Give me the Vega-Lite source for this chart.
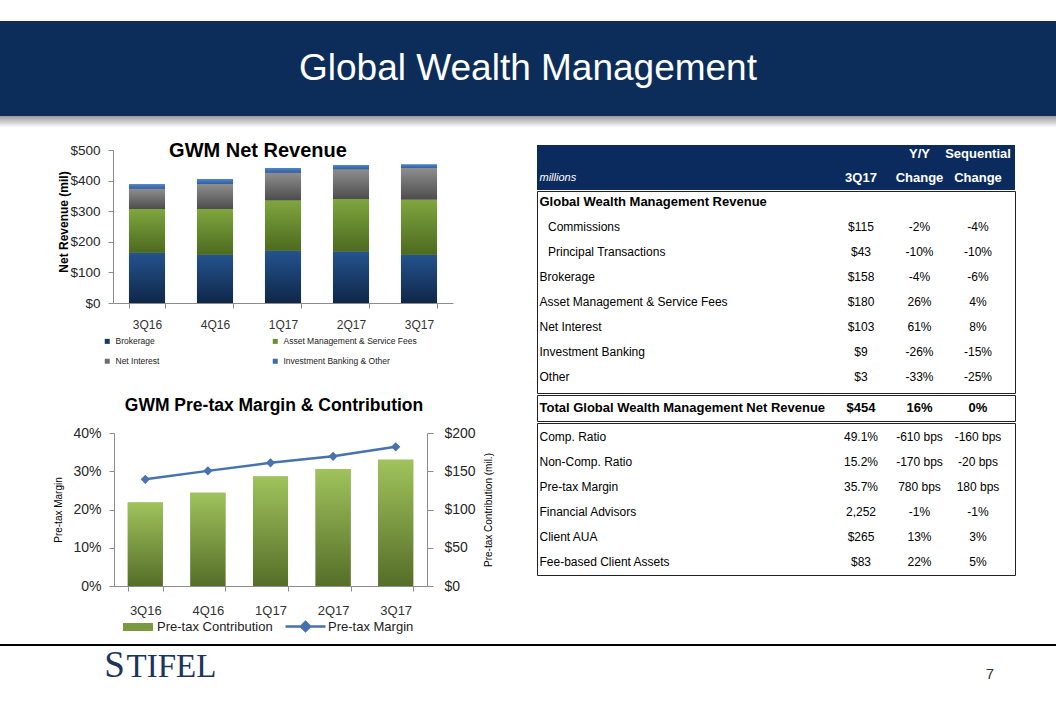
{
  "$schema": "https://vega.github.io/schema/vega-lite/v6.json",
  "background": "white",
  "padding": {"left": 0, "top": 21, "right": 0, "bottom": 0},
  "spacing": 0,
  "resolve": {"scale": {"color": "independent", "fill": "independent"}, "legend": {"color": "independent", "fill": "independent"}},
  "config": {
    "view": {"stroke": null},
    "font": "Liberation Sans",
    "concat": {"spacing": 0},
    "axis": {"grid": false, "domainColor": "#8c8c8c", "tickColor": "#8c8c8c", "labelColor": "#262626", "labelFont": "Liberation Sans", "titleFont": "Liberation Sans", "titleColor": "#000000"},
    "legend": {"labelFont": "Liberation Sans", "labelColor": "#222222"},
    "title": {"font": "Liberation Sans", "color": "#000000"}
  },
  "datasets": {
    "rev": [
      {"q": "3Q16", "s": "Brokerage", "k": 1, "val": 164},
      {"q": "3Q16", "s": "Asset Management & Service Fees", "k": 2, "val": 143},
      {"q": "3Q16", "s": "Net Interest", "k": 3, "val": 66},
      {"q": "3Q16", "s": "Investment Banking & Other", "k": 4, "val": 15},
      {"q": "4Q16", "s": "Brokerage", "k": 1, "val": 158},
      {"q": "4Q16", "s": "Asset Management & Service Fees", "k": 2, "val": 149},
      {"q": "4Q16", "s": "Net Interest", "k": 3, "val": 82},
      {"q": "4Q16", "s": "Investment Banking & Other", "k": 4, "val": 16},
      {"q": "1Q17", "s": "Brokerage", "k": 1, "val": 171},
      {"q": "1Q17", "s": "Asset Management & Service Fees", "k": 2, "val": 165},
      {"q": "1Q17", "s": "Net Interest", "k": 3, "val": 90},
      {"q": "1Q17", "s": "Investment Banking & Other", "k": 4, "val": 15},
      {"q": "2Q17", "s": "Brokerage", "k": 1, "val": 168},
      {"q": "2Q17", "s": "Asset Management & Service Fees", "k": 2, "val": 172},
      {"q": "2Q17", "s": "Net Interest", "k": 3, "val": 97},
      {"q": "2Q17", "s": "Investment Banking & Other", "k": 4, "val": 14},
      {"q": "3Q17", "s": "Brokerage", "k": 1, "val": 158},
      {"q": "3Q17", "s": "Asset Management & Service Fees", "k": 2, "val": 180},
      {"q": "3Q17", "s": "Net Interest", "k": 3, "val": 103},
      {"q": "3Q17", "s": "Investment Banking & Other", "k": 4, "val": 12}
    ],
    "pt": [
      {"q": "3Q16", "contrib": 109, "margin": 0.279},
      {"q": "4Q16", "contrib": 122, "margin": 0.301},
      {"q": "1Q17", "contrib": 143, "margin": 0.322},
      {"q": "2Q17", "contrib": 153, "margin": 0.339},
      {"q": "3Q17", "contrib": 165, "margin": 0.364}
    ],
    "hdr": [
      {"i": 1, "label": "", "v": "", "yy": "Y/Y", "seq": "Sequential"},
      {"i": 2, "label": "millions", "v": "3Q17", "yy": "Change", "seq": "Change"}
    ],
    "tbl": [
      {"sec": "b1", "i": 1, "st": "b", "label": "Global Wealth Management Revenue", "v": "", "yy": "", "seq": ""},
      {"sec": "b1", "i": 2, "st": "i", "label": "Commissions", "v": "$115", "yy": "-2%", "seq": "-4%"},
      {"sec": "b1", "i": 3, "st": "i", "label": "Principal Transactions", "v": "$43", "yy": "-10%", "seq": "-10%"},
      {"sec": "b1", "i": 4, "st": "n", "label": "Brokerage", "v": "$158", "yy": "-4%", "seq": "-6%"},
      {"sec": "b1", "i": 5, "st": "n", "label": "Asset Management & Service Fees", "v": "$180", "yy": "26%", "seq": "4%"},
      {"sec": "b1", "i": 6, "st": "n", "label": "Net Interest", "v": "$103", "yy": "61%", "seq": "8%"},
      {"sec": "b1", "i": 7, "st": "n", "label": "Investment Banking", "v": "$9", "yy": "-26%", "seq": "-15%"},
      {"sec": "b1", "i": 8, "st": "n", "label": "Other", "v": "$3", "yy": "-33%", "seq": "-25%"},
      {"sec": "t", "i": 1, "st": "b", "label": "Total Global Wealth Management Net Revenue", "v": "$454", "yy": "16%", "seq": "0%"},
      {"sec": "b2", "i": 1, "st": "n", "label": "Comp. Ratio", "v": "49.1%", "yy": "-610 bps", "seq": "-160 bps"},
      {"sec": "b2", "i": 2, "st": "n", "label": "Non-Comp. Ratio", "v": "15.2%", "yy": "-170 bps", "seq": "-20 bps"},
      {"sec": "b2", "i": 3, "st": "n", "label": "Pre-tax Margin", "v": "35.7%", "yy": "780 bps", "seq": "180 bps"},
      {"sec": "b2", "i": 4, "st": "n", "label": "Financial Advisors", "v": "2,252", "yy": "-1%", "seq": "-1%"},
      {"sec": "b2", "i": 5, "st": "n", "label": "Client AUA", "v": "$265", "yy": "13%", "seq": "3%"},
      {"sec": "b2", "i": 6, "st": "n", "label": "Fee-based Client Assets", "v": "$83", "yy": "22%", "seq": "5%"}
    ]
  },
  "vconcat": [
    {
      "width": 1056, "height": 95,
      "view": {"fill": "#0c2d59"},
      "data": {"values": [{"t": "Global Wealth Management"}]},
      "mark": {"type": "text", "color": "#ffffff", "fontSize": 37, "baseline": "middle", "align": "center"},
      "encoding": {"text": {"field": "t", "type": "nominal"}}
    },
    {
      "width": 1056, "height": 23,
      "view": {"fill": {"gradient": "linear", "x1": 0, "y1": 0, "x2": 0, "y2": 1, "stops": [{"offset": 0, "color": "#9a9a9a"}, {"offset": 0.5, "color": "#ffffff"}, {"offset": 1, "color": "#ffffff"}]}},
      "data": {"values": []},
      "mark": {"type": "point", "opacity": 0}
    },
    {
      "resolve": {"scale": {"color": "independent", "fill": "independent"}, "legend": {"color": "independent", "fill": "independent"}},
      "hconcat": [
        {
          "resolve": {"scale": {"color": "independent", "fill": "independent"}, "legend": {"color": "independent", "fill": "independent"}},
          "vconcat": [
            {
              "width": 536, "height": 246,
              "view": {"fill": "#ffffff"},
              "title": {"text": "GWM Net Revenue", "fontSize": 20, "fontWeight": "bold", "anchor": "middle", "frame": "group", "baseline": "alphabetic", "offset": -38, "dx": -10},
              "data": {"name": "rev"},
              "encoding": {
                "x": {"field": "q", "type": "nominal", "sort": null, "scale": {"range": [113, 453], "paddingInner": 0.47, "paddingOuter": 0.235},
                      "axis": {"title": null, "offset": -82, "labelAngle": 0, "labelFontSize": 12, "labelPadding": 11, "tickSize": 5, "tickBand": "extent", "labelColor": "#333333"}}
              },
              "layer": [
                {
                  "mark": {"type": "bar"},
                  "encoding": {
                    "y": {"field": "val", "type": "quantitative", "stack": "zero", "scale": {"domain": [0, 500], "range": [164, 11]},
                          "axis": {"offset": -113, "values": [0, 100, 200, 300, 400, 500], "format": "$,.0f", "labelFontSize": 13.5, "tickSize": 5, "labelPadding": 8,
                                   "title": "Net Revenue (mil)", "titleFontSize": 12, "titleFontWeight": "bold", "titleX": -50, "titleY": 82.5, "titleAngle": 270, "titleBaseline": "middle", "titleAlign": "center"}},
                    "color": {"field": "s", "type": "nominal",
                              "scale": {"domain": ["Brokerage", "Net Interest", "Asset Management & Service Fees", "Investment Banking & Other"], "range": ["#173a6a", "#6e6e6e", "#6a8f2e", "#3a6db0"]},
                              "legend": {"orient": "none", "legendX": 103, "legendY": 198, "columns": 2, "columnPadding": 111, "rowPadding": 11, "symbolType": "square", "symbolSize": 25, "symbolStrokeWidth": 0, "labelFontSize": 8.5, "labelOffset": 4, "title": null}},
                    "order": {"field": "k", "type": "quantitative"}
                  }
                },
                {
                  "transform": [{"stack": "val", "groupby": ["q"], "sort": [{"field": "k", "order": "ascending"}], "as": ["v0", "v1"]}, {"filter": {"field": "k", "equal": 1}}],
                  "mark": {"type": "bar", "color": {"gradient": "linear", "x1": 0, "y1": 0, "x2": 0, "y2": 1, "stops": [{"offset": 0, "color": "#24538f"}, {"offset": 1, "color": "#0f2748"}]}},
                  "encoding": {"y": {"field": "v1", "type": "quantitative"}, "y2": {"field": "v0"}}
                },
                {
                  "transform": [{"stack": "val", "groupby": ["q"], "sort": [{"field": "k", "order": "ascending"}], "as": ["v0", "v1"]}, {"filter": {"field": "k", "equal": 2}}],
                  "mark": {"type": "bar", "color": {"gradient": "linear", "x1": 0, "y1": 0, "x2": 0, "y2": 1, "stops": [{"offset": 0, "color": "#80a63e"}, {"offset": 1, "color": "#4d6a20"}]}},
                  "encoding": {"y": {"field": "v1", "type": "quantitative"}, "y2": {"field": "v0"}}
                },
                {
                  "transform": [{"stack": "val", "groupby": ["q"], "sort": [{"field": "k", "order": "ascending"}], "as": ["v0", "v1"]}, {"filter": {"field": "k", "equal": 3}}],
                  "mark": {"type": "bar", "color": {"gradient": "linear", "x1": 0, "y1": 0, "x2": 0, "y2": 1, "stops": [{"offset": 0, "color": "#8e8e8e"}, {"offset": 1, "color": "#4d4d4d"}]}},
                  "encoding": {"y": {"field": "v1", "type": "quantitative"}, "y2": {"field": "v0"}}
                },
                {
                  "transform": [{"stack": "val", "groupby": ["q"], "sort": [{"field": "k", "order": "ascending"}], "as": ["v0", "v1"]}, {"filter": {"field": "k", "equal": 4}}],
                  "mark": {"type": "bar", "color": {"gradient": "linear", "x1": 0, "y1": 0, "x2": 0, "y2": 1, "stops": [{"offset": 0, "color": "#5086c8"}, {"offset": 1, "color": "#2f5f9e"}]}},
                  "encoding": {"y": {"field": "v1", "type": "quantitative"}, "y2": {"field": "v0"}}
                }
              ]
            },
            {
              "width": 536, "height": 255,
              "view": {"fill": "#ffffff"},
              "title": {"text": "GWM Pre-tax Margin & Contribution", "fontSize": 17.5, "fontWeight": "bold", "anchor": "middle", "frame": "group", "baseline": "alphabetic", "offset": -43.5, "dx": 6},
              "data": {"name": "pt"},
              "encoding": {
                "x": {"field": "q", "type": "nominal", "sort": null, "scale": {"range": [114, 427], "paddingInner": 0.44, "paddingOuter": 0.22},
                      "axis": {"title": null, "offset": -54, "labelAngle": 0, "labelFontSize": 13, "labelPadding": 13, "tickSize": 5, "tickBand": "extent", "labelColor": "#333333"}}
              },
              "layer": [
                {
                  "layer": [
                    {
                      "mark": {"type": "bar"},
                      "encoding": {
                        "y": {"field": "contrib", "type": "quantitative", "scale": {"domain": [0, 200], "range": [201, 48]},
                              "axis": {"orient": "right", "offset": -109, "values": [0, 50, 100, 150, 200], "format": "$.0f", "labelFontSize": 14, "tickSize": 6, "labelPadding": 11,
                                       "title": "Pre-tax Contribution (mil.)", "titleFontSize": 10, "titleFontWeight": "normal", "titleX": 61, "titleY": 124.5, "titleAngle": 270, "titleBaseline": "middle", "titleAlign": "center"}},
                        "fill": {"datum": "Pre-tax Contribution", "type": "nominal", "scale": {"range": ["#7a9a40"]},
                                 "legend": {"orient": "none", "legendX": 128, "legendY": 232, "symbolType": "M-1.5,-0.4H1.5V0.4H-1.5Z", "symbolSize": 400, "symbolStrokeWidth": 0, "labelFontSize": 13, "labelOffset": 9, "title": null}}
                      }
                    },
                    {
                      "mark": {"type": "bar", "color": {"gradient": "linear", "x1": 0, "y1": 0, "x2": 0, "y2": 1, "stops": [{"offset": 0, "color": "#a0c35c"}, {"offset": 1, "color": "#556e28"}]}},
                      "encoding": {"y": {"field": "contrib", "type": "quantitative"}}
                    }
                  ]
                },
                {
                  "mark": {"type": "line", "strokeWidth": 2.5, "point": {"shape": "diamond", "size": 85, "filled": true}},
                  "encoding": {
                    "y": {"field": "margin", "type": "quantitative", "scale": {"domain": [0, 0.4], "range": [201, 48]},
                          "axis": {"orient": "left", "offset": -114, "values": [0, 0.1, 0.2, 0.3, 0.4], "format": ".0%", "labelFontSize": 14, "tickSize": 5, "labelPadding": 8,
                                   "title": "Pre-tax Margin", "titleFontSize": 10, "titleFontWeight": "normal", "titleX": -56, "titleY": 124.5, "titleAngle": 270, "titleBaseline": "middle", "titleAlign": "center"}},
                    "color": {"datum": "Pre-tax Margin", "type": "nominal", "scale": {"range": ["#4672ae"]},
                              "legend": {"orient": "none", "legendX": 294, "legendY": 230, "symbolType": "M-2,0H2M0,-0.45L0.45,0L0,0.45L-0.45,0Z", "symbolSize": 400, "symbolStrokeWidth": 2.5, "symbolFillColor": "#4672ae", "labelFontSize": 13, "labelOffset": 11, "title": null}}
                  }
                }
              ],
              "resolve": {"scale": {"y": "independent"}}
            }
          ]
        },
        {
          "vconcat": [
            {"width": 478, "height": 6, "view": {"fill": "#ffffff"}, "data": {"values": []}, "mark": {"type": "point", "opacity": 0}},
            {
              "width": 478, "height": 45,
              "view": {"fill": "#0b2b5e"},
              "data": {"name": "hdr"},
              "encoding": {"y": {"field": "i", "type": "ordinal", "scale": {"type": "point", "padding": 0.4375, "align": 0.43}, "axis": null}},
              "layer": [
                {
                  "mark": {"type": "text", "align": "left", "baseline": "middle", "dx": 2.5, "fontSize": 11, "fontStyle": "italic", "color": "#ffffff"},
                  "encoding": {"x": {"datum": "label", "type": "nominal", "scale": {"type": "point", "padding": 0, "align": 0}, "axis": null}, "text": {"field": "label"}}
                },
                {
                  "transform": [{"fold": ["v", "yy", "seq"], "as": ["key", "val"]}],
                  "mark": {"type": "text", "align": "center", "baseline": "middle", "fontSize": 13, "fontWeight": "bold", "color": "#ffffff"},
                  "encoding": {"x": {"field": "key", "type": "nominal", "scale": {"type": "point", "domain": ["v", "yy", "seq"], "range": [324, 441], "padding": 0}, "axis": null}, "text": {"field": "val"}}
                }
              ],
              "resolve": {"scale": {"x": "independent"}}
            },
            {
              "width": 478, "height": 202,
              "view": {"fill": "#ffffff", "stroke": "#222222", "strokeWidth": 1},
              "data": {"name": "tbl"},
              "transform": [{"filter": {"field": "sec", "equal": "b1"}}],
              "encoding": {"y": {"field": "i", "type": "ordinal", "scale": {"type": "point", "padding": 0.54, "align": 0.393}, "axis": null}},
              "layer": [
                {
                  "transform": [{"filter": {"field": "st", "equal": "n"}}],
                  "mark": {"type": "text", "align": "left", "baseline": "middle", "dx": 2.5, "fontSize": 12, "color": "#000000"},
                  "encoding": {"x": {"datum": "label", "type": "nominal", "scale": {"type": "point", "padding": 0, "align": 0}, "axis": null}, "text": {"field": "label"}}
                },
                {
                  "transform": [{"filter": {"field": "st", "equal": "i"}}],
                  "mark": {"type": "text", "align": "left", "baseline": "middle", "dx": 11, "fontSize": 12, "color": "#000000"},
                  "encoding": {"x": {"datum": "label", "type": "nominal", "scale": {"type": "point", "padding": 0, "align": 0}, "axis": null}, "text": {"field": "label"}}
                },
                {
                  "transform": [{"filter": {"field": "st", "equal": "b"}}],
                  "mark": {"type": "text", "align": "left", "baseline": "middle", "dx": 2.5, "fontSize": 13, "fontWeight": "bold", "color": "#000000"},
                  "encoding": {"x": {"datum": "label", "type": "nominal", "scale": {"type": "point", "padding": 0, "align": 0}, "axis": null}, "text": {"field": "label"}}
                },
                {
                  "transform": [{"fold": ["v", "yy", "seq"], "as": ["key", "val"]}],
                  "mark": {"type": "text", "align": "center", "baseline": "middle", "fontSize": 12, "color": "#000000"},
                  "encoding": {"x": {"field": "key", "type": "nominal", "scale": {"type": "point", "domain": ["v", "yy", "seq"], "range": [324, 441], "padding": 0}, "axis": null}, "text": {"field": "val"}}
                }
              ],
              "resolve": {"scale": {"x": "independent"}}
            },
            {
              "width": 478, "height": 26,
              "view": {"fill": "#ffffff", "stroke": "#222222", "strokeWidth": 1},
              "data": {"name": "tbl"},
              "transform": [{"filter": {"field": "sec", "equal": "t"}}],
              "encoding": {"y": {"field": "i", "type": "ordinal", "scale": {"type": "point"}, "axis": null}},
              "layer": [
                {
                  "mark": {"type": "text", "align": "left", "baseline": "middle", "dx": 2.5, "fontSize": 13, "fontWeight": "bold", "color": "#000000"},
                  "encoding": {"x": {"datum": "label", "type": "nominal", "scale": {"type": "point", "padding": 0, "align": 0}, "axis": null}, "text": {"field": "label"}}
                },
                {
                  "transform": [{"fold": ["v", "yy", "seq"], "as": ["key", "val"]}],
                  "mark": {"type": "text", "align": "center", "baseline": "middle", "fontSize": 13, "fontWeight": "bold", "color": "#000000"},
                  "encoding": {"x": {"field": "key", "type": "nominal", "scale": {"type": "point", "domain": ["v", "yy", "seq"], "range": [324, 441], "padding": 0}, "axis": null}, "text": {"field": "val"}}
                }
              ],
              "resolve": {"scale": {"x": "independent"}}
            },
            {
              "width": 478, "height": 152,
              "view": {"fill": "#ffffff", "stroke": "#222222", "strokeWidth": 1},
              "data": {"name": "tbl"},
              "transform": [{"filter": {"field": "sec", "equal": "b2"}}],
              "encoding": {"y": {"field": "i", "type": "ordinal", "scale": {"type": "point", "padding": 0.54, "align": 0.536}, "axis": null}},
              "layer": [
                {
                  "mark": {"type": "text", "align": "left", "baseline": "middle", "dx": 2.5, "fontSize": 12, "color": "#000000"},
                  "encoding": {"x": {"datum": "label", "type": "nominal", "scale": {"type": "point", "padding": 0, "align": 0}, "axis": null}, "text": {"field": "label"}}
                },
                {
                  "transform": [{"fold": ["v", "yy", "seq"], "as": ["key", "val"]}],
                  "mark": {"type": "text", "align": "center", "baseline": "middle", "fontSize": 12, "color": "#000000"},
                  "encoding": {"x": {"field": "key", "type": "nominal", "scale": {"type": "point", "domain": ["v", "yy", "seq"], "range": [324, 441], "padding": 0}, "axis": null}, "text": {"field": "val"}}
                }
              ],
              "resolve": {"scale": {"x": "independent"}}
            }
          ]
        }
      ]
    },
    {"width": 1056, "height": 4, "view": {"fill": "#ffffff"}, "data": {"values": []}, "mark": {"type": "point", "opacity": 0}},
    {"width": 1056, "height": 2, "view": {"fill": "#000000"}, "data": {"values": []}, "mark": {"type": "point", "opacity": 0}},
    {
      "hconcat": [
        {"width": 104, "height": 40, "view": {"fill": "#ffffff"}, "data": {"values": []}, "mark": {"type": "point", "opacity": 0}},
        {
          "width": 21, "height": 40,
          "view": {"fill": "#ffffff"},
          "data": {"values": [{"t": "S"}]},
          "mark": {"type": "text", "font": "Liberation Serif", "fontSize": 37, "color": "#1b355c", "baseline": "alphabetic", "align": "center", "dy": 10.5},
          "encoding": {"text": {"field": "t", "type": "nominal"}}
        },
        {
          "width": 93, "height": 40,
          "view": {"fill": "#ffffff"},
          "data": {"values": [{"t": "TIFEL"}]},
          "mark": {"type": "text", "font": "Liberation Serif", "fontSize": 33, "color": "#1b355c", "baseline": "alphabetic", "align": "center", "dy": 10.5},
          "encoding": {"text": {"field": "t", "type": "nominal"}}
        },
        {"width": 766, "height": 40, "view": {"fill": "#ffffff"}, "data": {"values": []}, "mark": {"type": "point", "opacity": 0}},
        {
          "width": 12, "height": 40,
          "view": {"fill": "#ffffff"},
          "data": {"values": [{"t": "7"}]},
          "mark": {"type": "text", "fontSize": 15, "color": "#333333", "baseline": "alphabetic", "align": "center", "dy": 13},
          "encoding": {"text": {"field": "t", "type": "nominal"}}
        }
      ]
    }
  ]
}
